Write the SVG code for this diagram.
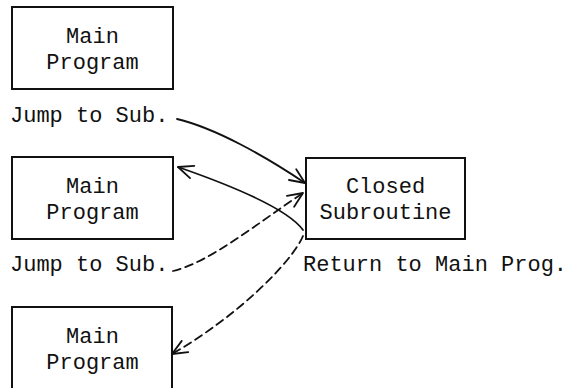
<svg xmlns="http://www.w3.org/2000/svg" width="572" height="388" viewBox="0 0 572 388">
  <style>
    .box { fill: #ffffff; stroke: #111111; stroke-width: 2; }
    .label { font-family: "Liberation Mono", "DejaVu Sans Mono", monospace; font-size: 22px; fill: #111111; }
    .mid { text-anchor: middle; }
    .wire { fill: none; stroke: #111111; stroke-width: 1.8; stroke-linecap: round; }
    .dashed { stroke-dasharray: 8 5; }
  </style>
  <defs>
    <marker id="openHead" viewBox="-17 -8 19 16" refX="0" refY="0" markerWidth="19" markerHeight="16" markerUnits="userSpaceOnUse" orient="auto">
      <path d="M-15,-6.5 L0,0 L-15,6.5" fill="none" stroke="#111111" stroke-width="1.8" stroke-dasharray="none" stroke-linecap="round" stroke-linejoin="round"/>
    </marker>
  </defs>

  <rect width="572" height="388" fill="#ffffff"/>

  <!-- main program, top -->
  <g id="main1">
    <rect class="box" x="12" y="7" width="161" height="82"/>
    <text class="label mid" x="92.5" y="43">Main</text>
    <text class="label mid" x="92.5" y="69">Program</text>
  </g>

  <!-- main program, middle -->
  <g id="main2">
    <rect class="box" x="12" y="157" width="161" height="82"/>
    <text class="label mid" x="92.5" y="193">Main</text>
    <text class="label mid" x="92.5" y="219">Program</text>
  </g>

  <!-- main program, bottom (runs off the lower edge) -->
  <g id="main3">
    <rect class="box" x="12" y="307" width="160" height="100"/>
    <text class="label mid" x="92.5" y="343">Main</text>
    <text class="label mid" x="92.5" y="369">Program</text>
  </g>

  <!-- closed subroutine -->
  <g id="subroutine">
    <rect class="box" x="306" y="158" width="159" height="81"/>
    <text class="label mid" x="385.5" y="193">Closed</text>
    <text class="label mid" x="385.5" y="219">Subroutine</text>
  </g>

  <!-- captions -->
  <g id="captions">
    <text class="label" x="10" y="122">Jump to Sub.</text>
    <text class="label" x="10" y="271">Jump to Sub.</text>
    <text class="label" x="303" y="271">Return to Main Prog.</text>
  </g>

  <!-- connectors -->
  <g id="connectors">
    <path class="wire" d="M177,119 C215,128 265,156 305,183" marker-end="url(#openHead)"/>
    <path class="wire" stroke-width="2.2" d="M303,230 C290,212 250,192 178,167" marker-end="url(#openHead)"/>
    <path class="wire dashed" d="M173,271 C210,262 255,225 303,193" marker-end="url(#openHead)"/>
    <path class="wire dashed" d="M303,236 C292,262 238,316 172,354" marker-end="url(#openHead)"/>
  </g>
</svg>
